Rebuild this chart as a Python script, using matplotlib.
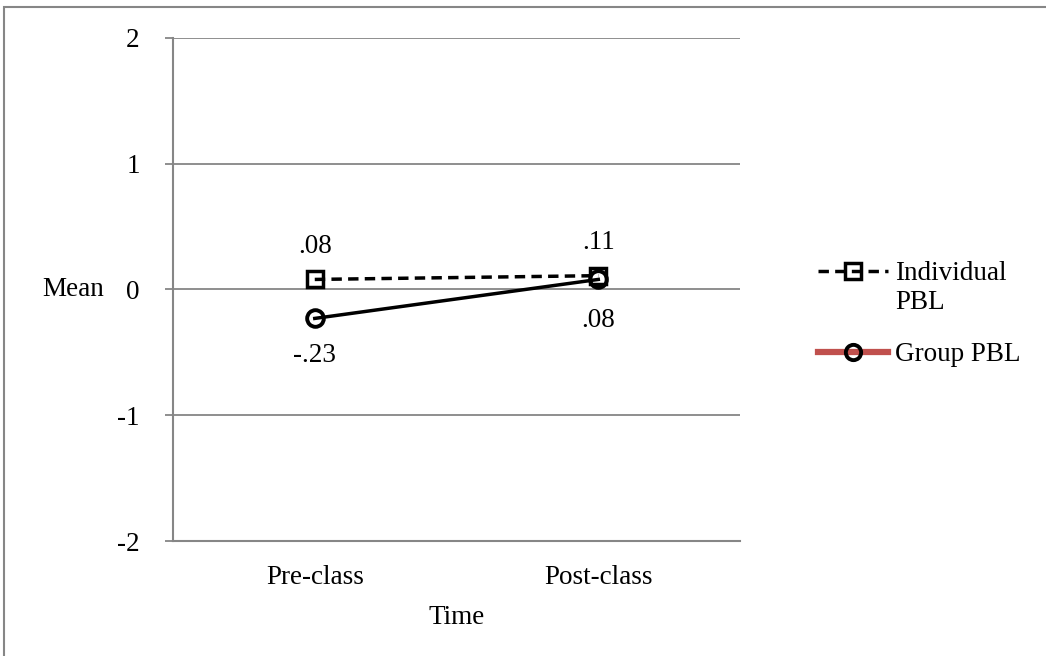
import matplotlib.pyplot as plt
from matplotlib.lines import Line2D
from matplotlib.patches import Rectangle

plt.rcParams['font.family'] = ['Liberation Serif', 'DejaVu Serif']

# Data
times = ["Pre-class", "Post-class"]
individual = [0.08, 0.11]
group = [-0.23, 0.08]
individual_labels = [".08", ".11"]
group_labels = ["-.23", ".08"]
yticks = [-2, -1, 0, 1, 2]

FS = 19.5
grey = "#868686"
dash = (0, (3, 1.8))

fig = plt.figure(figsize=(10.46, 6.56), dpi=100)
# outer chart border
fig.patches.append(Rectangle((0.004, -0.1), 1.2, 1.09, transform=fig.transFigure,
                             fill=False, edgecolor=grey, linewidth=1.5))

ax = fig.add_axes([0.1654, 0.1753, 0.5421, 0.7668])
x = list(range(len(times)))

ax.plot(x, individual, color="black", linestyle=dash, linewidth=2.5,
        marker="s", markersize=12, markerfacecolor="none", markeredgewidth=2.5, zorder=3)
ax.plot(x, group, color="black", linestyle="-", linewidth=2.5,
        marker="o", markersize=12, markerfacecolor="none", markeredgewidth=2.8, zorder=3)

for xi, v, s in zip(x, individual, individual_labels):
    ax.annotate(s, (xi, v), xytext=(0, 33), textcoords="offset pixels",
                ha="center", va="center", fontsize=FS)
for xi, v, s in zip(x, group, group_labels):
    off = -37 if xi == 0 else -41
    ax.annotate(s, (xi, v), xytext=(0, off), textcoords="offset pixels",
                ha="center", va="center", fontsize=FS)

ax.set_xlim(-0.5, 1.5)
ax.set_ylim(-2, 2)
ax.set_yticks(yticks)
ax.set_yticklabels([str(t) for t in yticks], fontsize=FS)
ax.set_xticks(x)
ax.set_xticklabels(times, fontsize=FS)
ax.grid(axis="y", color=grey, linewidth=1.3)
ax.set_axisbelow(True)
ax.tick_params(axis="y", length=6, width=1.3, color=grey, pad=18)
ax.tick_params(axis="x", length=0, pad=17)
for side in ["top", "right"]:
    ax.spines[side].set_visible(False)
for side in ["left", "bottom"]:
    ax.spines[side].set_color(grey)
    ax.spines[side].set_linewidth(1.5)

ax.set_xlabel("Time", fontsize=FS, labelpad=11)
ax.set_ylabel("Mean", fontsize=FS, rotation=0, ha="center", va="center")
ax.yaxis.set_label_coords(-0.176, 0.5)

# legend (first entry wraps onto a second line, handle stays on the first)
h_ind = Line2D([], [], color="black", linestyle=dash, linewidth=2.5, marker="s",
               markersize=11, markerfacecolor="none", markeredgewidth=2.5)
h_blank = Line2D([], [], alpha=0)
h_grp = Line2D([], [], color="#C0504D", linestyle="-", linewidth=4.5, marker="o",
               markersize=11, markerfacecolor="none", markeredgecolor="black",
               markeredgewidth=2.8)
leg_kw = dict(frameon=False, fontsize=FS, handlelength=2.6, handletextpad=0.25,
              borderaxespad=0, borderpad=0, loc="center left")
leg1 = fig.legend([h_ind, h_blank], ["Individual", "PBL"],
                  bbox_to_anchor=(0.782, 0.561), labelspacing=0.12, **leg_kw)
fig.legend([h_grp], ["Group PBL"], bbox_to_anchor=(0.782, 0.459), **leg_kw)

fig.savefig("out.png", dpi=100)
